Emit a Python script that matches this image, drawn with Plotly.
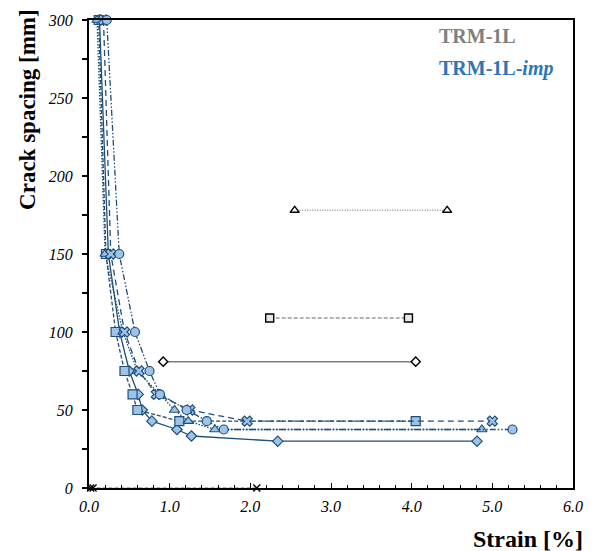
import plotly.graph_objects as go

# ---------------- data ----------------
# TRM-1L-imp series (crack spacing vs strain)
imp_diamond_strain = [0.13, 0.24, 0.38, 0.50, 0.61, 0.66, 0.78, 1.09, 1.27, 2.34, 4.81]
imp_diamond_spacing = [300, 150, 100, 75, 60, 50, 42.86, 37.5, 33.33, 30, 30]

imp_square_strain = [0.12, 0.21, 0.33, 0.44, 0.54, 0.60, 1.12, 4.05]
imp_square_spacing = [300, 150, 100, 75, 60, 50, 42.86, 42.86]

imp_triangle_strain = [0.10, 0.20, 0.42, 0.60, 0.88, 1.06, 1.23, 1.56, 4.87]
imp_triangle_spacing = [300, 150, 100, 75, 60, 50, 42.86, 37.5, 37.5]

imp_x_strain = [0.18, 0.27, 0.44, 0.62, 0.835, 1.25, 1.96, 5.0]
imp_x_spacing = [300, 150, 100, 75, 60, 50, 42.86, 42.86]

imp_circle_strain = [0.22, 0.375, 0.57, 0.75, 0.88, 1.21, 1.46, 1.67, 5.25]
imp_circle_spacing = [300, 150, 100, 75, 60, 50, 42.86, 37.5, 37.5]

# TRM-1L series
ref_triangle_strain = [2.55, 4.44]
ref_triangle_spacing = [178, 178]
ref_square_strain = [2.24, 3.96]
ref_square_spacing = [109, 109]
ref_diamond_strain = [0.92, 4.05]
ref_diamond_spacing = [81, 81]
ref_x_strain = [0.02, 0.05, 2.08]
ref_x_spacing = [0, 0, 0]

x_tick_vals = [0, 1, 2, 3, 4, 5, 6]
x_tick_text = ["0.0", "1.0", "2.0", "3.0", "4.0", "5.0", "6.0"]
y_tick_vals = [0, 50, 100, 150, 200, 250, 300]
y_tick_text = ["0", "50", "100", "150", "200", "250", "300"]

# ---------------- styles ----------------
DARK = "#1F4E79"
LIGHT = "#9DC3E6"
GRAY = "#9A9A9A"
GRAY_D = "#7F7F7F"
SERIF = "Liberation Serif, Times New Roman, serif"

fig = go.Figure()

def imp_trace(x, y, symbol, dash, size):
    fig.add_trace(go.Scatter(
        x=x, y=y, mode="lines+markers", cliponaxis=False,
        line=dict(color=DARK, width=1.3, dash=dash),
        marker=dict(symbol=symbol, size=size, color=LIGHT,
                    line=dict(color=DARK, width=1.2)),
        showlegend=False))

def ref_trace(x, y, symbol, dash, color, fill, size):
    fig.add_trace(go.Scatter(
        x=x, y=y, mode="lines+markers", cliponaxis=False,
        line=dict(color=color, width=1.5, dash=dash),
        marker=dict(symbol=symbol, size=size, color=fill,
                    line=dict(color="black", width=1.4)),
        showlegend=False))

ref_trace(ref_triangle_strain, ref_triangle_spacing, "triangle-up", "1px,1.5px", GRAY, "white", 8)
ref_trace(ref_square_strain, ref_square_spacing, "square", "4px,2px", GRAY, "#E8E8E8", 8)
ref_trace(ref_diamond_strain, ref_diamond_spacing, "diamond", "solid", GRAY_D, "white", 7)
ref_trace(ref_x_strain, ref_x_spacing, "x-thin", "4px,2px", GRAY, "black", 7)

imp_trace(imp_diamond_strain, imp_diamond_spacing, "diamond", "solid", 8)
imp_trace(imp_square_strain, imp_square_spacing, "square", "4px,2px", 9)
imp_trace(imp_triangle_strain, imp_triangle_spacing, "triangle-up", "1.5px,1.5px", 9)
imp_trace(imp_x_strain, imp_x_spacing, "x", "6px,4px", 9)
imp_trace(imp_circle_strain, imp_circle_spacing, "circle", "6px,2px,1.5px,2px,1.5px,2px", 9)

tickfont = dict(family=SERIF, size=16, color="black", style="italic")

fig.update_layout(
    width=595, height=551,
    margin=dict(l=89, r=15, t=14, b=63),
    paper_bgcolor="white", plot_bgcolor="white",
    xaxis=dict(range=[0, 6], tickvals=x_tick_vals, ticktext=x_tick_text,
               showgrid=False, zeroline=False,
               showline=True, linecolor="black", linewidth=2, mirror=True,
               ticks="inside", ticklen=5, tickwidth=1.2, tickcolor="black",
               minor=dict(dtick=0.2, ticks="inside", ticklen=3, tickwidth=1, tickcolor="black"),
               tickfont=tickfont, ticklabelstandoff=3),
    yaxis=dict(range=[0, 300], tickvals=y_tick_vals, ticktext=y_tick_text,
               showgrid=False, zeroline=False,
               showline=True, linecolor="black", linewidth=2, mirror=True,
               ticks="outside", ticklen=5, tickwidth=1.5, tickcolor="black",
               minor=dict(dtick=25, ticks="outside", ticklen=5, tickwidth=1.5, tickcolor="black"),
               tickfont=tickfont, ticklabelstandoff=6),
)

fig.add_annotation(text="<b>Crack spacing [mm]</b>", xref="paper", yref="paper",
                   x=-0.127, y=1.028, xanchor="center", yanchor="top", textangle=-90,
                   showarrow=False, font=dict(family=SERIF, size=23, color="black"))
fig.add_annotation(text="<b>Strain [%]</b>", xref="paper", yref="paper",
                   x=1.024, y=-0.110, xanchor="right", yanchor="middle",
                   showarrow=False, font=dict(family=SERIF, size=24, color="black"))
fig.add_annotation(text="<b>TRM-1L</b>", xref="paper", yref="paper",
                   x=0.718, y=0.966, xanchor="left", yanchor="middle",
                   showarrow=False, font=dict(family=SERIF, size=20, color="#808080"))
fig.add_annotation(text="<b>TRM-1L-<i>imp</i></b>", xref="paper", yref="paper",
                   x=0.718, y=0.897, xanchor="left", yanchor="middle",
                   showarrow=False, font=dict(family=SERIF, size=20, color="#2E75B6"))

fig.write_html("out.html")
